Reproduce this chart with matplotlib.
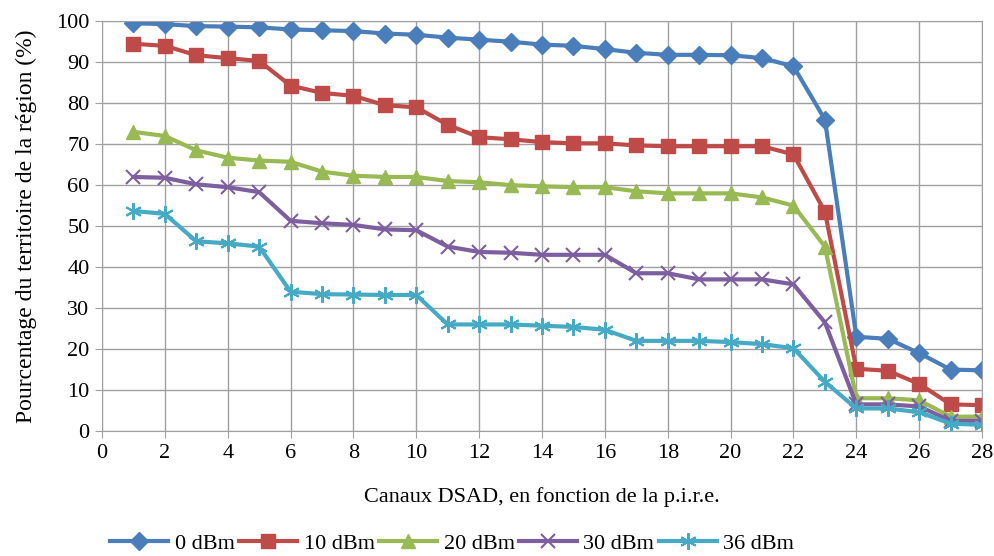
import matplotlib
matplotlib.use("Agg")
import matplotlib.pyplot as plt

channels = list(range(1, 29))
p0 = [99.5, 99.3, 98.8, 98.7, 98.5, 98.0, 97.8, 97.6, 97.0, 96.7, 96.0, 95.5, 95.0, 94.3,
      94.0, 93.2, 92.3, 91.8, 91.8, 91.7, 91.0, 89.0, 76.0, 23.0, 22.5, 19.0, 15.0, 14.8]
p10 = [94.5, 94.0, 91.7, 91.0, 90.3, 84.3, 82.5, 81.8, 79.5, 79.0, 74.7, 71.7, 71.2, 70.5,
       70.2, 70.2, 69.7, 69.5, 69.5, 69.5, 69.5, 67.5, 53.5, 15.2, 14.7, 11.5, 6.5, 6.3]
p20 = [73.0, 72.0, 68.5, 66.7, 66.0, 65.7, 63.3, 62.3, 62.0, 62.0, 61.0, 60.7, 60.0, 59.7,
       59.5, 59.5, 58.5, 58.0, 58.0, 58.0, 57.0, 55.0, 45.0, 8.0, 8.0, 7.5, 3.5, 3.5]
p30 = [62.0, 61.8, 60.2, 59.5, 58.3, 51.3, 50.7, 50.3, 49.2, 49.0, 45.0, 43.7, 43.5, 43.0,
       43.0, 43.0, 38.5, 38.5, 37.0, 37.0, 37.0, 35.8, 26.5, 6.5, 6.5, 6.0, 2.5, 2.5]
p36 = [53.7, 53.0, 46.3, 45.8, 45.0, 34.0, 33.4, 33.3, 33.2, 33.2, 26.0, 26.0, 26.0, 25.7,
       25.4, 24.7, 22.0, 22.0, 22.0, 21.7, 21.2, 20.2, 12.0, 5.5, 5.5, 4.6, 1.8, 1.5]
labels = ["0 dBm", "10 dBm", "20 dBm", "30 dBm", "36 dBm"]

plt.rcParams["font.family"] = ["Liberation Serif", "DejaVu Serif"]

fig = plt.figure(figsize=(9.94, 5.56), dpi=100)
ax = fig.add_axes([0.1026, 0.2248, 0.8854, 0.737])

styles = [
    ("#4a7ebb", "D", 9, 1),
    ("#be4b48", "s", 10, 1),
    ("#98b954", "^", 10, 1),
    ("#7d5fa0", "x", 10, 1.5),
    ("#46aac5", (6, 2, 0), 12, 1.5),
]
for vals, lab, (col, mk, ms, mew) in zip([p0, p10, p20, p30, p36], labels, styles):
    ax.plot(channels, vals, color=col, lw=3, marker=mk, ms=ms, mew=mew,
            mec=col, mfc=col, label=lab, solid_joinstyle="round")

ax.set_xlim(0, 28)
ax.set_ylim(0, 100)
ax.set_xticks(range(0, 29, 2))
ax.set_yticks(range(0, 101, 10))
ax.grid(True, color="#a0a0a0", lw=1)
ax.set_axisbelow(True)
for s in ax.spines.values():
    s.set_color("#a0a0a0")
ax.tick_params(length=5, color="#a0a0a0", labelsize=16, pad=4)
ax.set_xlabel("Canaux DSAD, en fonction de la p.i.r.e.", fontsize=16, labelpad=18)
ax.set_ylabel("Pourcentage du territoire de la région (%)", fontsize=17, labelpad=14)

ax.legend(loc="upper center", bbox_to_anchor=(0.398, -0.228), ncol=5, frameon=False,
          fontsize=16, handlelength=2.6, handletextpad=0.3, columnspacing=0.2,
          borderaxespad=0)

fig.savefig("out.png", dpi=100)
